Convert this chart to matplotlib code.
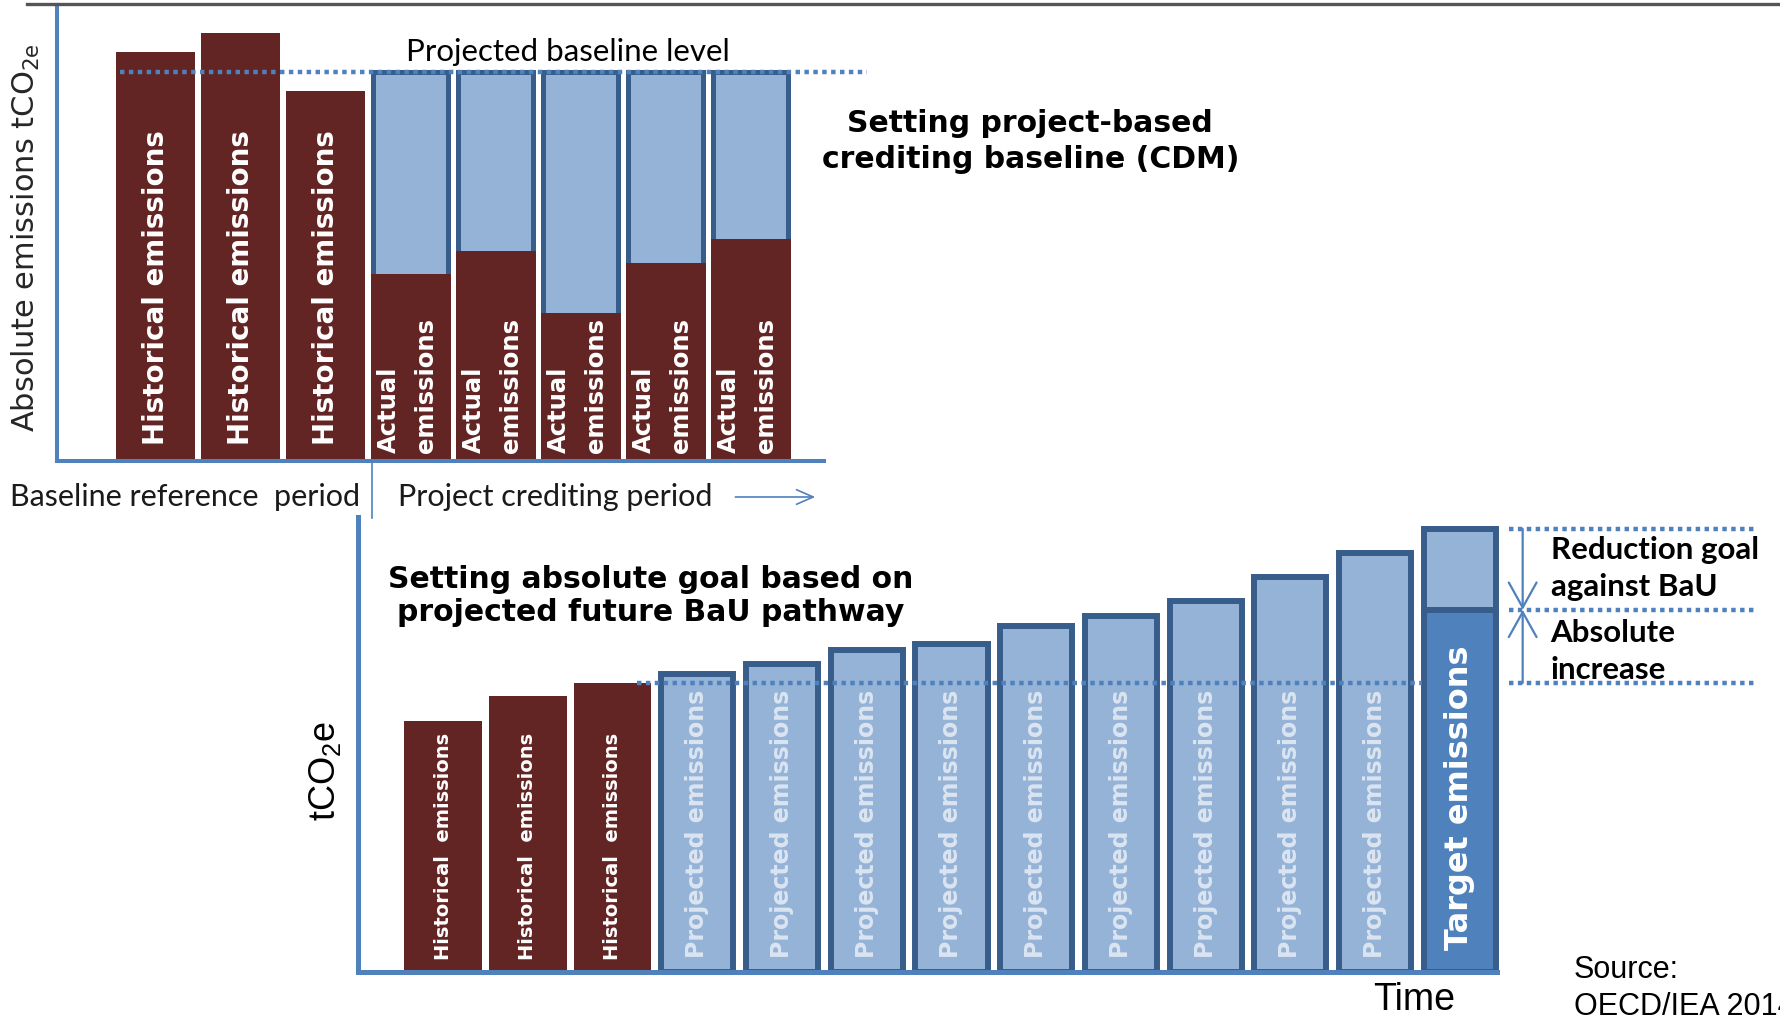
import numpy as np
import matplotlib.pyplot as plt
from matplotlib.lines import Line2D

# --- data (arbitrary emission units) ---
# top panel : project-based crediting baseline (CDM)
top_hist = [105, 110, 95]
top_baseline = 100
top_actual = [48, 54, 38, 51, 57]

# bottom panel : absolute goal vs projected BaU pathway
bot_hist = [87, 95.5, 100]
bot_proj = [103, 106.6, 111.5, 113.5, 119.8, 123.2, 128.4, 136.7, 145]
bot_target_bau = 153.3
bot_target = 125.3

# colours (office palette)
maroon = '#632523'
light_blue = '#95B3D7'
mid_blue = '#4F81BD'
edge_blue = '#385D8A'
pale_text = '#DBE5F1'

W, H = 1781, 1016
fig = plt.figure(figsize=(W/100, H/100), dpi=100)

def px_axes(left, top, right, bottom):
    return fig.add_axes([left/W, 1-bottom/H, (right-left)/W, (bottom-top)/H])

def style_axes(ax, lw):
    ax.set_xticks([])
    ax.set_yticks([])
    for s in ['top', 'right']:
        ax.spines[s].set_visible(False)
    for s in ['left', 'bottom']:
        ax.spines[s].set_color(mid_blue)
        ax.spines[s].set_linewidth(lw)
    ax.patch.set_alpha(0)

dot = (0, (1, 1))

# ================= top panel =================
ax1 = px_axes(57, 5, 824, 461)
style_axes(ax1, 2.9)
ax1.set_xlim(-1.161, 7.863)
ax1.set_ylim(0, 117.2)

x_hist = np.arange(len(top_hist))
x_act = np.arange(len(top_hist), len(top_hist)+len(top_actual))

ax1.bar(x_hist, top_hist, width=0.93, color=maroon, zorder=1)
ax1.bar(x_act, [top_baseline]*len(x_act), width=0.88, color=light_blue,
        edgecolor=edge_blue, linewidth=3.6, zorder=1)
ax1.bar(x_act, top_actual, width=0.94, color=maroon, zorder=2)

for x in x_hist:
    ax1.text(x, 4.1, 'Historical emissions', rotation=90, ha='center', va='bottom',
             color='white', fontsize=20, fontweight='bold', zorder=4)
for x in x_act:
    ax1.text(x - 0.04, 2.0, 'Actual\nemissions', rotation=90, ha='center', va='bottom',
             multialignment='left', linespacing=1.7, color='white', fontsize=17.5,
             fontweight='bold', zorder=4)

ax1.plot([-0.42, 8.37], [top_baseline, top_baseline], ls=dot, lw=3.2, color=mid_blue,
         clip_on=False, zorder=5)
ax1.text(4.85, 105.1, 'Projected baseline level', ha='center', va='center',
         fontsize=22.5, family='Lato', color='black')

ax1.text(10.29, 82.1, 'Setting project-based\ncrediting baseline (CDM)', ha='center',
         va='center', multialignment='center', fontsize=21.5, fontweight='bold',
         linespacing=1.3, color='black')

# period labels under the axis
ax1.plot([2.55, 2.55], [0, -14.7], lw=1.2, color=mid_blue, clip_on=False)
ax1.text(0.345, -9.25, 'Baseline reference  period', ha='center', va='center',
         fontsize=22, family='Lato', color='#1a1a1a')
ax1.text(4.70, -9.25, 'Project crediting period', ha='center', va='center',
         fontsize=22, family='Lato', color='#1a1a1a')
ax1.annotate('', xy=(7.76, -9.25), xytext=(6.82, -9.25), annotation_clip=False,
             arrowprops=dict(arrowstyle='->,head_length=0.8,head_width=0.35',
                             color=mid_blue, lw=1.2, shrinkA=0, shrinkB=0,
                             mutation_scale=15))

ax1.set_ylabel(r'Absolute emissions tCO$_\mathregular{2e}$', fontsize=22, color='#262626')
ax1.yaxis.set_label_coords(-0.019, 0.489)

# ================= bottom panel =================
ax2 = px_axes(358, 517, 1497, 972)
style_axes(ax2, 3.6)
ax2.set_xlim(-1.003, 12.437)
ax2.set_ylim(0, 157.4)

xb_hist = np.arange(len(bot_hist))
xb_proj = np.arange(len(bot_hist), len(bot_hist)+len(bot_proj))
x_tgt = len(bot_hist) + len(bot_proj)

ax2.bar(xb_hist, bot_hist, width=0.92, color=maroon, zorder=1)
ax2.bar(xb_proj, bot_proj, width=0.85, color=light_blue, edgecolor=edge_blue,
        linewidth=4.3, zorder=1)
ax2.bar([x_tgt], [bot_target], width=0.85, color=mid_blue, edgecolor=edge_blue,
        linewidth=4.3, zorder=1, clip_on=False)
ax2.bar([x_tgt], [bot_target_bau - bot_target], bottom=[bot_target], width=0.85,
        color=light_blue, edgecolor=edge_blue, linewidth=4.3, zorder=1, clip_on=False)

for x in xb_hist:
    ax2.text(x, 4.15, 'Historical  emissions', rotation=90, ha='center', va='bottom',
             color='white', fontsize=14, fontweight='bold', zorder=4)
for x in xb_proj:
    ax2.text(x, 4.8, 'Projected emissions', rotation=90, ha='center', va='bottom',
             color=pale_text, fontsize=17, fontweight='bold', zorder=4)
ax2.text(x_tgt, 7.6, 'Target emissions', rotation=90, ha='center', va='bottom',
         color='white', fontsize=23, fontweight='bold', zorder=4)

# current level and goal markers
ax2.plot([2.29, 11.55], [bot_hist[-1]]*2, ls=dot, lw=3.2, color=mid_blue, zorder=5)
for lvl in [bot_target_bau, bot_target, bot_hist[-1]]:
    ax2.plot([12.58, 15.48], [lvl, lvl], ls=dot, lw=3.2, color=mid_blue, clip_on=False)

arr = dict(arrowstyle='->,head_length=0.9,head_width=0.5', color=mid_blue, lw=1.6,
           shrinkA=0, shrinkB=0, mutation_scale=20)
ax2.annotate('', xy=(12.74, bot_target), xytext=(12.74, bot_target_bau),
             annotation_clip=False, arrowprops=arr)
ax2.annotate('', xy=(12.74, bot_target), xytext=(12.74, bot_hist[-1]),
             annotation_clip=False, arrowprops=arr)

ax2.text(13.07, 139.6, 'Reduction goal\nagainst BaU', ha='left', va='center',
         fontsize=22.5, family='Lato', fontweight='bold', linespacing=1.4)
ax2.text(13.07, 110.8, 'Absolute\nincrease', ha='left', va='center',
         fontsize=22.5, family='Lato', fontweight='bold', linespacing=1.4)

ax2.text(2.454, 130.1, 'Setting absolute goal based on\nprojected future BaU pathway',
         ha='center', va='center', multialignment='center', fontsize=21.5,
         fontweight='bold', linespacing=1.2)

ax2.set_ylabel(r'tCO$_\mathregular{2}$e', fontsize=26, family='Liberation Sans')
ax2.yaxis.set_label_coords(-0.0135, 0.442)
ax2.set_xlabel('Time', fontsize=27, family='Liberation Sans')
ax2.xaxis.set_label_coords(0.927, -0.022)

fig.text(1574/W, 1-955/H, 'Source:\nOECD/IEA 2014', ha='left', va='top', fontsize=22,
         family='Liberation Sans', linespacing=1.3)

# frame line at the very top
fig.add_artist(Line2D([27/W, 1], [1-4/H, 1-4/H], color='#555555', lw=2.4,
                      transform=fig.transFigure))

fig.savefig('out.png', dpi=100)
